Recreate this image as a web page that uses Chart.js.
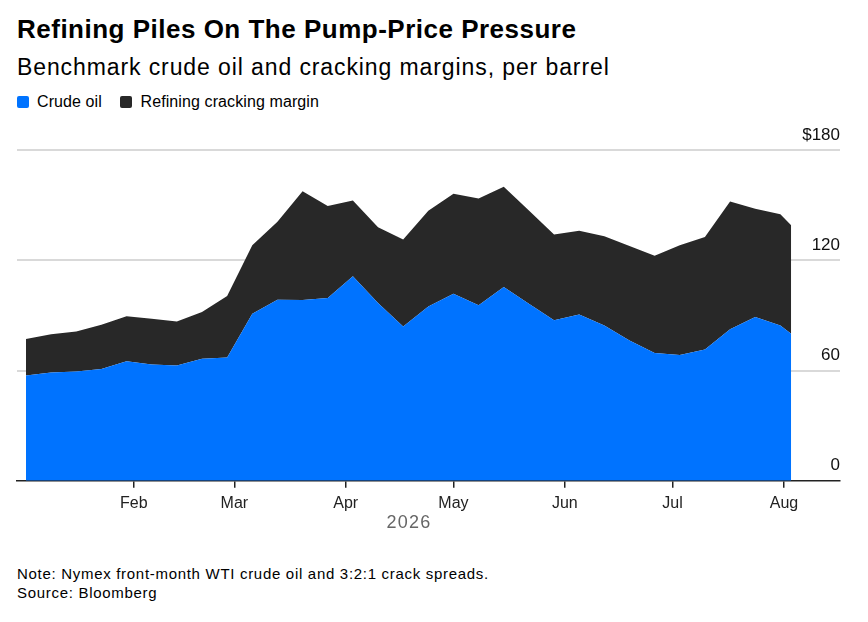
<!DOCTYPE html>
<html>
<head>
<meta charset="utf-8">
<script src="https://cdn.jsdelivr.net/npm/chart.js@4/dist/chart.umd.min.js"></script>
<style>
  body { margin: 0; background: #fff; font-family: "Liberation Sans", Arial, sans-serif; color: #000; }
  #wrap { position: relative; width: 868px; height: 622px; overflow: hidden; }
  .title { position: absolute; left: 17px; top: 14px; font-size: 26px; font-weight: bold; letter-spacing: 0.5px; }
  .subtitle { position: absolute; left: 17px; top: 54px; font-size: 23px; letter-spacing: 0.9px; }
  .legend { position: absolute; left: 17px; top: 93px; font-size: 16px; letter-spacing: 0.1px; }
  .legend span.box { display: inline-block; width: 12px; height: 12px; border-radius: 2px; vertical-align: -1px; margin-right: 8px; }
  .legend span.item { margin-right: 14px; }
  #chartBox { position: absolute; left: 0; top: 120px; width: 868px; height: 399px; }
  .year { position: absolute; left: 359px; width: 100px; text-align: center; top: 512px; font-size: 18px; letter-spacing: 1.2px; color: #666; }
  .note { position: absolute; left: 17px; top: 564px; font-size: 15px; line-height: 19px; letter-spacing: 0.7px; }
</style>
</head>
<body>
<div id="wrap">
  <div class="title">Refining Piles On The Pump-Price Pressure</div>
  <div class="subtitle">Benchmark crude oil and cracking margins, per barrel</div>
  <div class="legend">
    <span class="item"><span class="box" style="background:#0073ff"></span>Crude oil</span>
    <span class="item"><span class="box" style="background:#282828"></span>Refining cracking margin</span>
  </div>
  <div id="chartBox"><canvas id="oilChart"></canvas></div>
  <div class="year">2026</div>
  <div class="note">Note: Nymex front-month WTI crude oil and 3:2:1 crack spreads.<br>Source: Bloomberg</div>
</div>
<script>
// weekly observations, last one is a partial week
var dates = [
  '2026-01-02', '2026-01-09', '2026-01-16', '2026-01-23', '2026-01-30',
  '2026-02-06', '2026-02-13', '2026-02-20', '2026-02-27',
  '2026-03-06', '2026-03-13', '2026-03-20', '2026-03-27',
  '2026-04-03', '2026-04-10', '2026-04-17', '2026-04-24',
  '2026-05-01', '2026-05-08', '2026-05-15', '2026-05-22', '2026-05-29',
  '2026-06-05', '2026-06-12', '2026-06-19', '2026-06-26',
  '2026-07-03', '2026-07-10', '2026-07-17', '2026-07-24', '2026-07-31',
  '2026-08-03'
];
var crude = [
  57.3, 58.9, 59.5, 60.9, 65.1, 63.3, 62.7, 66.4, 67.1,
  90.9, 98.5, 98.4, 99.5, 111.3, 96.7, 84.0, 94.9,
  101.8, 95.5, 105.5, 96.4, 87.3, 90.5, 84.5, 76.4, 69.5,
  68.5, 71.5, 82.4, 89.1, 84.5, 80.0
];
var margin = [
  19.8, 20.9, 21.8, 24.0, 24.4, 24.9, 24.0, 25.4, 33.4,
  37.3, 42.4, 59.1, 50.0, 41.2, 41.3, 47.3, 52.0,
  54.4, 58.1, 54.5, 50.7, 46.7, 45.5, 48.6, 51.4, 53.0,
  59.7, 61.2, 69.6, 58.9, 60.6, 59.1
];
var monthStarts = ['2026-02-01', '2026-03-01', '2026-04-01', '2026-05-01', '2026-06-01', '2026-07-01', '2026-08-01'];
var monthLabels = ['Feb', 'Mar', 'Apr', 'May', 'Jun', 'Jul', 'Aug'];
var yTicks = [0, 60, 120, 180];

function dayOfYear(s) {
  var p = s.split('-');
  return (Date.UTC(+p[0], +p[1] - 1, +p[2]) - Date.UTC(2026, 0, 1)) / 86400000;
}

var tickDays = monthStarts.map(dayOfYear);

function points(values) {
  return values.map(function(v, i) { return { x: dayOfYear(dates[i]), y: v }; });
}

var ctx = document.getElementById('oilChart').getContext('2d');
var oilChart = new Chart(ctx, {
  type: 'line',
  data: {
    datasets: [
      {
        label: 'Crude oil',
        data: points(crude),
        fill: 'origin',
        backgroundColor: '#0073ff',
        borderWidth: 0,
        pointRadius: 0,
        tension: 0
      },
      {
        label: 'Refining cracking margin',
        data: points(margin),
        fill: '-1',
        backgroundColor: '#282828',
        borderWidth: 0,
        pointRadius: 0,
        tension: 0
      }
    ]
  },
  options: {
    responsive: true,
    maintainAspectRatio: false,
    animation: false,
    layout: { padding: { left: 17, right: 28, top: 30, bottom: 0 } },
    plugins: {
      legend: { display: false },
      tooltip: { enabled: false }
    },
    scales: {
      x: {
        type: 'linear',
        min: -1.5,
        max: 227.6,
        afterBuildTicks: function(axis) {
          axis.ticks = tickDays.map(function(d) { return { value: d }; });
        },
        ticks: {
          autoSkip: false,
          maxRotation: 0,
          padding: 6,
          color: '#222',
          font: { family: 'Liberation Sans', size: 16 },
          callback: function(v) {
            var i = tickDays.indexOf(v);
            return i >= 0 ? monthLabels[i] : '';
          }
        },
        grid: { drawOnChartArea: false, drawTicks: true, tickLength: 7, color: '#222', lineWidth: 1.5 },
        border: { display: true, color: '#222', width: 1.5 }
      },
      y: {
        position: 'right',
        stacked: true,
        min: 0,
        max: 180,
        afterBuildTicks: function(axis) {
          axis.ticks = yTicks.map(function(v) { return { value: v }; });
        },
        ticks: {
          mirror: true,
          padding: 0,
          labelOffset: -15,
          color: '#111',
          font: { family: 'Liberation Sans', size: 17 },
          callback: function(v) { return v === 180 ? '$' + v : v; }
        },
        grid: {
          drawTicks: false,
          lineWidth: 2,
          color: function(c) { return c.tick && c.tick.value === 0 ? 'rgba(0,0,0,0)' : '#d9d9d9'; }
        },
        border: { display: false }
      }
    }
  }
});
</script>
</body>
</html>
